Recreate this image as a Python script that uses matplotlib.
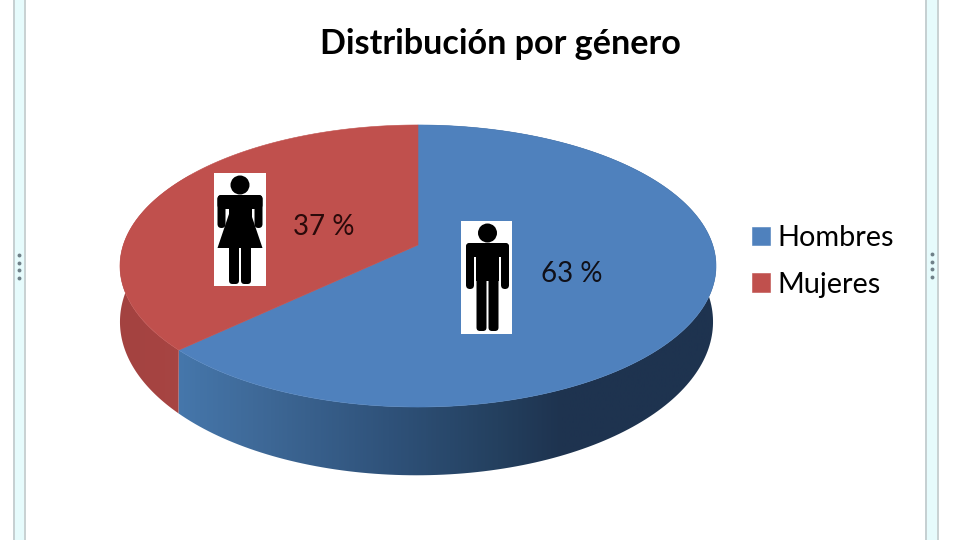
import numpy as np
import matplotlib
matplotlib.use('Agg')
import matplotlib.pyplot as plt
from matplotlib.colors import LinearSegmentedColormap
from matplotlib.patches import Circle, FancyBboxPatch, Polygon, Rectangle

# Datos de la grafica
titulo = 'Distribución por género'
generos = ['Hombres', 'Mujeres']
porcentajes = [63, 37]
colores = ['#4f81bd', '#c0504d']

plt.rcParams['font.family'] = ['Lato', 'DejaVu Sans']

fig = plt.figure(figsize=(9.6, 5.4), dpi=100)
ax = fig.add_axes([0, 0, 1, 1])


# Proyeccion en perspectiva del disco unidad a pixeles
def proyectar(u, v, dx=0, dy=0, ex=1.0, ey=1.0):
    w = 1 + 0.1489 * v
    return 418 + dx + ex * 294.7 * u / w, 245 + dy - ey * 137.9 * v / w


def borde(a0, a1, dx=0, dy=0, ex=1.0, ey=1.0):
    t = np.radians(np.linspace(a0, a1, 200))
    x, y = proyectar(np.sin(t), np.cos(t), dx, dy, ex, ey)
    return np.column_stack([x, y])


def degradado(poli, stops, x0, x1):
    cmap = LinearSegmentedColormap.from_list('d', stops)
    im = ax.imshow(np.linspace(0, 1, 400)[None, :], cmap=cmap, aspect='auto',
                   extent=(x0, x1, 490, 120), zorder=1)
    patch = Polygon(poli, transform=ax.transData, fc='none', ec='none')
    ax.add_patch(patch)
    im.set_clip_path(patch)


def persona(cx, cab_y, cab_r, hombro_y, ancho, brazo_fin, pierna_fin, falda=None):
    k = dict(fc='black', ec='none', zorder=5)
    ax.add_patch(Circle((cx, cab_y), cab_r, **k))
    redondo = 'round,pad=0,rounding_size=4'
    ax.add_patch(FancyBboxPatch((cx - ancho, hombro_y), 2 * ancho, 14, boxstyle=redondo, **k))
    for lado in (-1, 1):
        xb = cx + lado * (ancho - 4) - 4
        ax.add_patch(FancyBboxPatch((xb, hombro_y), 8, brazo_fin - hombro_y, boxstyle=redondo, **k))
        xp = cx + lado * 6 - 5
        ax.add_patch(FancyBboxPatch((xp, hombro_y + 30), 10, pierna_fin - hombro_y - 30,
                                    boxstyle='round,pad=0,rounding_size=3.5', **k))
    ax.add_patch(Rectangle((cx - 11.5, hombro_y), 23, 38, **k))
    if falda:
        ax.add_patch(Polygon([(cx - 11, falda[0]), (cx + 11, falda[0]),
                              (cx + ancho, falda[1]), (cx - ancho, falda[1])], **k))


# Paneles laterales de la ventana
for x0, x1 in [(13, 26), (925, 939)]:
    ax.add_patch(Rectangle((x0, 0), x1 - x0, 540, fc='#e6fbfc', ec='none', zorder=0))
    ax.add_patch(Rectangle((x0, 0), 2, 540, fc='#c6d0d2', ec='none', zorder=0))
    ax.add_patch(Rectangle((x1 - 2, 0), 2, 540, fc='#c9d2d3', ec='none', zorder=0))
for xg, yg in [(18.5, 255), (932, 254)]:
    ax.plot([xg] * 4, [yg + 7.5 * i for i in range(4)], 'o', ms=2.8, mew=0, color='#6f8088', zorder=1)

# Porciones, sentido horario desde arriba
cortes = np.concatenate([[0], np.cumsum(porcentajes)]) * 360 / sum(porcentajes)
DX, DY, EX, EY = -1.5, 54, 0.995, 1.088

# Paredes laterales
pared_h = np.vstack([borde(cortes[0], cortes[1]), borde(cortes[1], cortes[0], DX, DY, EX, EY)])
pared_m = np.vstack([borde(cortes[1], cortes[2]), borde(cortes[2], cortes[1], DX, DY, EX, EY)])
degradado(pared_h, [(0, '#4678ad'), (0.15, '#3f6a99'), (0.4, '#2f527a'), (0.6, '#24405f'),
                    (0.72, '#1e334f'), (1, '#1e3350')], 170, 716)
degradado(pared_m, ['#a34240', '#a84543'], 115, 190)

# Cara superior
centro = proyectar(0, 0)
parches = []
for i in range(len(generos)):
    poli = np.vstack([[centro], borde(cortes[i], cortes[i + 1])])
    p = Polygon(poli, fc=colores[i], ec=colores[i], lw=0.4, zorder=2, label=generos[i])
    ax.add_patch(p)
    parches.append(p)

# Iconos
ax.add_patch(Rectangle((461, 221), 51, 113, fc='white', ec='none', zorder=4))
ax.add_patch(Rectangle((214, 173), 52, 113, fc='white', ec='none', zorder=4))
persona(487.5, 233, 9.5, 243, 21.5, 289, 331)
persona(240, 185, 9.5, 195, 22.5, 228, 284, falda=(214, 248))

# Etiquetas
ax.text(571.5, 273.5, f'{porcentajes[0]} %', fontsize=20, color='#101018', ha='center', va='center', zorder=6)
ax.text(324, 227, f'{porcentajes[1]} %', fontsize=20, color='#2a0a0a', ha='center', va='center', zorder=6)
ax.text(500, 44, titulo, fontsize=24.6, fontweight='bold', color='black', ha='center', va='center')

ax.legend(parches, generos, loc='center left', bbox_to_anchor=(752, 261.5), bbox_transform=ax.transData,
          frameon=False, fontsize=20.8, handlelength=0.62, handleheight=0.6, handletextpad=0.27,
          labelspacing=0.7, borderpad=0, borderaxespad=0)

ax.set_xlim(0, 960)
ax.set_ylim(540, 0)
ax.axis('off')
fig.savefig('out.png', dpi=100)
